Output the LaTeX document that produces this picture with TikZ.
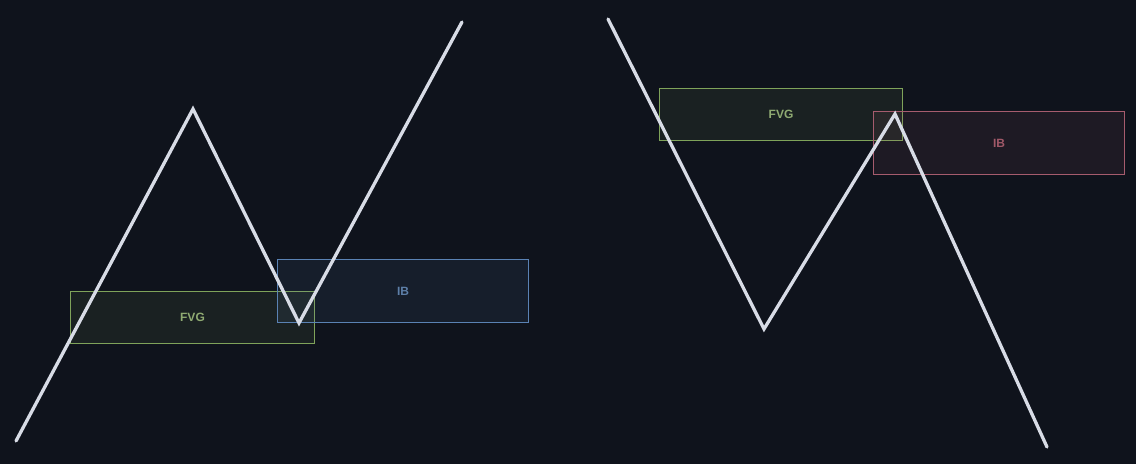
\documentclass[tikz,border=0pt]{standalone}
\usepackage{fontspec}
\setmainfont{Liberation Sans}
\definecolor{bg}{HTML}{0F131C}
\definecolor{linec}{HTML}{D8DCE6}
\definecolor{fvgc}{HTML}{7FA35A}
\definecolor{fvgt}{HTML}{8FAA72}
\definecolor{ibb}{HTML}{5A82B4}
\definecolor{ibbt}{HTML}{5D7FA8}
\definecolor{ibr}{HTML}{A65C6E}
\definecolor{ibrt}{HTML}{A05868}
\tikzset{
  zone/.style={draw=#1, line width=0.9pt, fill=#1, fill opacity=0.1, text opacity=1, inner sep=0pt, outer sep=0pt, anchor=north west},
  ztext/.style={font=\fontsize{12}{14}\selectfont\bfseries, text=#1},
  price/.style={draw=linec, line width=3.3pt, line cap=round, line join=miter}
}
\begin{document}
\begin{tikzpicture}[x=1pt,y=-1pt]
\fill[bg] (0,0) rectangle (1136,464);
\useasboundingbox (0,0) rectangle (1136,464);
% zones
\node[zone=fvgc, minimum width=244pt, minimum height=52pt] (fvgL) at (70.5,291.5) {};
\node[zone=ibb, minimum width=251pt, minimum height=63pt] (ibL) at (277.5,259.5) {};
\node[zone=fvgc, minimum width=243pt, minimum height=52pt] (fvgR) at (659.5,88.5) {};
\node[zone=ibr, minimum width=251pt, minimum height=63pt] (ibR) at (873.5,111.5) {};
% price paths
\coordinate (a1) at (16,441);
\coordinate (a2) at (193,109);
\coordinate (a3) at (299,323);
\coordinate (a4) at (462,22);
\coordinate (b1) at (608,19);
\coordinate (b2) at (764,329);
\coordinate (b3) at (895,114);
\coordinate (b4) at (1047,447);
\draw[price] (a1) -- (a2) -- (a3) -- (a4);
\draw[price] (b1) -- (b2) -- (b3) -- (b4);
% labels
\node[ztext=fvgt] (tfvgL) at (fvgL.center) {FVG};
\node[ztext=ibbt] (tibL) at (ibL.center) {IB};
\node[ztext=fvgt] (tfvgR) at (fvgR.center) {FVG};
\node[ztext=ibrt] (tibR) at (ibR.center) {IB};
\end{tikzpicture}
\end{document}
